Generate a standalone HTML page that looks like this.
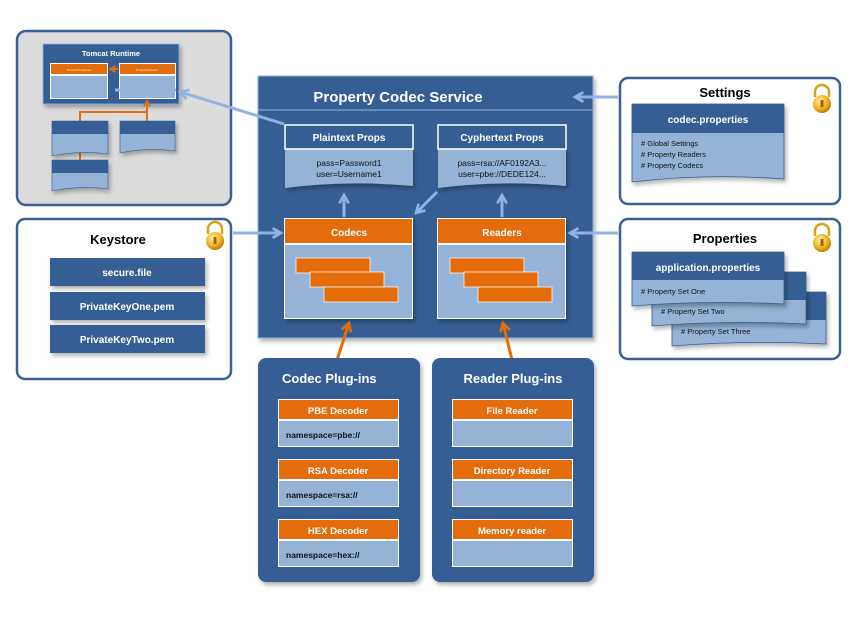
<!DOCTYPE html>
<html><head><meta charset="utf-8"><style>
body{margin:0;background:#fff}
svg{display:block;font-family:"Liberation Sans","DejaVu Sans",sans-serif}
</style></head><body>
<svg width="850" height="638" viewBox="0 0 850 638" xmlns="http://www.w3.org/2000/svg">
<defs>
<filter id="sh" x="-10%" y="-10%" width="130%" height="130%"><feDropShadow dx="2" dy="3" stdDeviation="2" flood-color="#000" flood-opacity="0.3"/></filter>
<marker id="ab" viewBox="0 0 10 10" refX="8" refY="5" markerWidth="4" markerHeight="4" orient="auto"><path d="M1,1 L8,5 L1,9" fill="none" stroke="#8fb4e3" stroke-width="2.2"/></marker>
<marker id="ao" viewBox="0 0 10 10" refX="8" refY="5" markerWidth="4" markerHeight="4" orient="auto"><path d="M1,1 L8,5 L1,9" fill="none" stroke="#e46c0a" stroke-width="2.2"/></marker>
<radialGradient id="lk" cx="40%" cy="35%" r="70%"><stop offset="0" stop-color="#fff3a0"/><stop offset="0.6" stop-color="#f0b020"/><stop offset="1" stop-color="#b87000"/></radialGradient>
</defs>

<!-- Tomcat box -->
<rect x="17" y="31" width="214" height="174" rx="9" fill="#dcdcdc" stroke="#3a5f94" stroke-width="2.5"/>
<rect x="43" y="44" width="136" height="60" fill="#355f94" stroke="#8fb4e3" stroke-width="0.8" filter="url(#sh)"/>
<text x="111" y="56" fill="#fff" font-size="7.5" font-weight="bold" text-anchor="middle">Tomcat Runtime</text>
<rect x="50" y="63" width="58" height="36" fill="#fff"/>
<rect x="51" y="64" width="56" height="10" fill="#e46c0a"/>
<rect x="51" y="76" width="56" height="22" fill="#94b3d7"/>
<rect x="119" y="63" width="57" height="36" fill="#fff"/>
<rect x="120" y="64" width="55" height="10" fill="#e46c0a"/>
<rect x="120" y="76" width="55" height="22" fill="#94b3d7"/>
<text x="79" y="71" fill="#fff" font-size="3" text-anchor="middle">Tomcat Properties</text>
<text x="147" y="71" fill="#fff" font-size="3" text-anchor="middle">PropertyAdapter</text>
<line x1="118" y1="69" x2="110" y2="69" stroke="#e46c0a" stroke-width="2" marker-end="url(#ao)"/>
<line x1="115" y1="90" x2="127" y2="90" stroke="#8fb4e3" stroke-width="3"/>
<line x1="176" y1="90" x2="168" y2="90" stroke="#8fb4e3" stroke-width="3"/>
<polyline points="80,121 80,112 147,112" fill="none" stroke="#e46c0a" stroke-width="2"/>
<line x1="147" y1="121" x2="147" y2="101" stroke="#e46c0a" stroke-width="2" marker-end="url(#ao)"/>
<line x1="80" y1="150" x2="80" y2="162" stroke="#e46c0a" stroke-width="2"/>
<g filter="url(#sh)">
<path d="M52,121 h56 v33 q-28,-4 -56,2 z" fill="#94b3d7" stroke="#355f94" stroke-width="0.6"/>
<rect x="52" y="121" width="56" height="13" fill="#355f94"/>
<path d="M120,121 h55 v30 q-28,-4 -55,2 z" fill="#94b3d7" stroke="#355f94" stroke-width="0.6"/>
<rect x="120" y="121" width="55" height="13" fill="#355f94"/>
<path d="M52,160 h56 v29 q-28,-4 -56,2 z" fill="#94b3d7" stroke="#355f94" stroke-width="0.6"/>
<rect x="52" y="160" width="56" height="13" fill="#355f94"/>
</g>

<!-- Main service -->
<rect x="258" y="76" width="335" height="262" fill="#355f94" stroke="#8fb4e3" stroke-width="1" filter="url(#sh)"/>
<line x1="258" y1="110" x2="593" y2="110" stroke="#8fb4e3" stroke-width="1"/>
<text x="398" y="102" fill="#fff" font-size="15" font-weight="bold" text-anchor="middle">Property Codec Service</text>

<!-- plaintext -->
<path d="M285,149 h128 v37 q-64,-6 -128,2 z" fill="#94b3d7" filter="url(#sh)"/>
<rect x="285" y="125" width="128" height="24" fill="#355f94" stroke="#fff" stroke-width="1.5"/>
<text x="349" y="141" fill="#fff" font-size="10" font-weight="bold" text-anchor="middle">Plaintext Props</text>
<text x="349" y="166" fill="#111" font-size="8.5" text-anchor="middle">pass=Password1</text>
<text x="349" y="177" fill="#111" font-size="8.5" text-anchor="middle">user=Username1</text>
<!-- cypher -->
<path d="M438,149 h128 v37 q-64,-6 -128,2 z" fill="#94b3d7" filter="url(#sh)"/>
<rect x="438" y="125" width="128" height="24" fill="#355f94" stroke="#fff" stroke-width="1.5"/>
<text x="502" y="141" fill="#fff" font-size="10" font-weight="bold" text-anchor="middle">Cyphertext Props</text>
<text x="502" y="166" fill="#111" font-size="8.5" text-anchor="middle">pass=rsa://AF0192A3...</text>
<text x="502" y="177" fill="#111" font-size="8.5" text-anchor="middle">user=pbe://DEDE124...</text>

<!-- Codecs -->
<g filter="url(#sh)">
<rect x="284" y="218" width="129" height="101" fill="#fff"/>
</g>
<rect x="285" y="219" width="127" height="24" fill="#e46c0a"/>
<rect x="285" y="245" width="127" height="73" fill="#94b3d7"/>
<text x="349" y="236" fill="#fff" font-size="10" font-weight="bold" text-anchor="middle">Codecs</text>
<g fill="#e46c0a" stroke="#fff" stroke-width="0.7">
<rect x="296" y="258" width="74" height="15"/><rect x="310" y="272" width="74" height="15"/><rect x="324" y="287" width="74" height="15"/>
</g>
<!-- Readers -->
<g filter="url(#sh)">
<rect x="437" y="218" width="129" height="101" fill="#fff"/>
</g>
<rect x="438" y="219" width="127" height="24" fill="#e46c0a"/>
<rect x="438" y="245" width="127" height="73" fill="#94b3d7"/>
<text x="502" y="236" fill="#fff" font-size="10" font-weight="bold" text-anchor="middle">Readers</text>
<g fill="#e46c0a" stroke="#fff" stroke-width="0.7">
<rect x="450" y="258" width="74" height="15"/><rect x="464" y="272" width="74" height="15"/><rect x="478" y="287" width="74" height="15"/>
</g>

<!-- blue arrows -->
<g stroke="#8fb4e3" stroke-width="3" fill="none" marker-end="url(#ab)">
<line x1="344" y1="217" x2="344" y2="195"/>
<line x1="502" y1="217" x2="502" y2="195"/>
<line x1="437" y1="192" x2="416" y2="213"/>
<line x1="233" y1="233" x2="281" y2="233"/>
<line x1="618" y1="233" x2="570" y2="233"/>
<line x1="618" y1="97" x2="575" y2="97"/>
<line x1="284" y1="124" x2="180" y2="92"/>
</g>
<!-- orange arrows -->
<g stroke="#e46c0a" stroke-width="3" fill="none" marker-end="url(#ao)">
<line x1="337" y1="360" x2="349" y2="323"/>
<line x1="512" y1="360" x2="503" y2="323"/>
</g>

<!-- Settings -->
<rect x="620" y="78" width="220" height="126" rx="8" fill="#fff" stroke="#3a5f94" stroke-width="2.5"/>
<text x="725" y="97" fill="#000" font-size="13" font-weight="bold" text-anchor="middle">Settings</text>
<g filter="url(#sh)">
<path d="M632,104 h152 v75 q-76,-6 -152,3 z" fill="#94b3d7" stroke="#355f94" stroke-width="0.8"/>
<rect x="632" y="104" width="152" height="29" fill="#355f94"/>
</g>
<text x="708" y="123" fill="#fff" font-size="10" font-weight="bold" text-anchor="middle">codec.properties</text>
<text x="641" y="146" fill="#111" font-size="7.5"># Global Settings</text>
<text x="641" y="157" fill="#111" font-size="7.5"># Property  Readers</text>
<text x="641" y="168" fill="#111" font-size="7.5"># Property Codecs</text>

<!-- Properties -->
<rect x="620" y="219" width="220" height="140" rx="8" fill="#fff" stroke="#3a5f94" stroke-width="2.5"/>
<text x="725" y="243" fill="#000" font-size="13" font-weight="bold" text-anchor="middle">Properties</text>
<g filter="url(#sh)">
<path d="M672,292 h154 v52 q-77,-4 -154,2 z" fill="#94b3d7" stroke="#355f94" stroke-width="0.8"/>
<rect x="672" y="292" width="154" height="28" fill="#355f94"/>
</g>
<g filter="url(#sh)">
<path d="M652,272 h154 v52 q-77,-4 -154,2 z" fill="#94b3d7" stroke="#355f94" stroke-width="0.8"/>
<rect x="652" y="272" width="154" height="28" fill="#355f94"/>
</g>
<g filter="url(#sh)">
<path d="M632,252 h152 v52 q-76,-4 -152,2 z" fill="#94b3d7" stroke="#355f94" stroke-width="0.8"/>
<rect x="632" y="252" width="152" height="28" fill="#355f94"/>
</g>
<text x="708" y="271" fill="#fff" font-size="10" font-weight="bold" text-anchor="middle">application.properties</text>
<text x="641" y="294" fill="#111" font-size="7.5"># Property Set One</text>
<text x="661" y="314" fill="#111" font-size="7.5"># Property Set Two</text>
<text x="681" y="334" fill="#111" font-size="7.5"># Property Set Three</text>

<!-- Keystore -->
<rect x="17" y="219" width="214" height="160" rx="8" fill="#fff" stroke="#3a5f94" stroke-width="2.5"/>
<text x="118" y="244" fill="#000" font-size="13" font-weight="bold" text-anchor="middle">Keystore</text>
<g fill="#355f94" filter="url(#sh)">
<rect x="50" y="258" width="155" height="28"/>
<rect x="50" y="292" width="155" height="28"/>
<rect x="50" y="325" width="155" height="28"/>
</g>
<g fill="#fff" font-size="10" font-weight="bold" text-anchor="middle">
<text x="127" y="276">secure.file</text>
<text x="127" y="310">PrivateKeyOne.pem</text>
<text x="127" y="343">PrivateKeyTwo.pem</text>
</g>

<!-- Locks -->
<g id="lock1">
<path d="M815,97 v-5 a7,7 0 0 1 14,0 v5" fill="none" stroke="#d9a020" stroke-width="2.5"/>
<circle cx="822" cy="104" r="9" fill="url(#lk)"/>
<rect x="820.5" y="100" width="3" height="7" fill="#a06010"/>
</g>
<use href="#lock1" transform="translate(0,139)"/>
<use href="#lock1" transform="translate(-607,137)"/>

<!-- Codec plug-ins -->
<rect x="258" y="358" width="162" height="224" rx="8" fill="#355f94" filter="url(#sh)"/>
<text x="282" y="383" fill="#fff" font-size="13" font-weight="bold">Codec Plug-ins</text>
<!-- Reader plug-ins -->
<rect x="432" y="358" width="162" height="224" rx="8" fill="#355f94" filter="url(#sh)"/>
<text x="513" y="383" fill="#fff" font-size="13" font-weight="bold" text-anchor="middle">Reader Plug-ins</text>

<g font-size="9.5" font-weight="bold" text-anchor="middle">
<rect x="278" y="399" width="121" height="48" fill="#fff"/><rect x="279" y="400" width="119" height="19" fill="#e46c0a"/><rect x="279" y="421" width="119" height="25" fill="#94b3d7"/>
<text x="338" y="414" fill="#fff">PBE Decoder</text>
<rect x="278" y="459" width="121" height="48" fill="#fff"/><rect x="279" y="460" width="119" height="19" fill="#e46c0a"/><rect x="279" y="481" width="119" height="25" fill="#94b3d7"/>
<text x="338" y="474" fill="#fff">RSA Decoder</text>
<rect x="278" y="519" width="121" height="48" fill="#fff"/><rect x="279" y="520" width="119" height="19" fill="#e46c0a"/><rect x="279" y="541" width="119" height="25" fill="#94b3d7"/>
<text x="338" y="534" fill="#fff">HEX Decoder</text>

<rect x="452" y="399" width="121" height="48" fill="#fff"/><rect x="453" y="400" width="119" height="19" fill="#e46c0a"/><rect x="453" y="421" width="119" height="25" fill="#94b3d7"/>
<text x="512" y="414" fill="#fff">File Reader</text>
<rect x="452" y="459" width="121" height="48" fill="#fff"/><rect x="453" y="460" width="119" height="19" fill="#e46c0a"/><rect x="453" y="481" width="119" height="25" fill="#94b3d7"/>
<text x="512" y="474" fill="#fff">Directory Reader</text>
<rect x="452" y="519" width="121" height="48" fill="#fff"/><rect x="453" y="520" width="119" height="19" fill="#e46c0a"/><rect x="453" y="541" width="119" height="25" fill="#94b3d7"/>
<text x="512" y="534" fill="#fff">Memory reader</text>
</g>
<g font-size="8.5" font-weight="bold" fill="#111">
<text x="286" y="438">namespace=pbe://</text>
<text x="286" y="498">namespace=rsa://</text>
<text x="286" y="558">namespace=hex://</text>
</g>
</svg>
</body></html>
